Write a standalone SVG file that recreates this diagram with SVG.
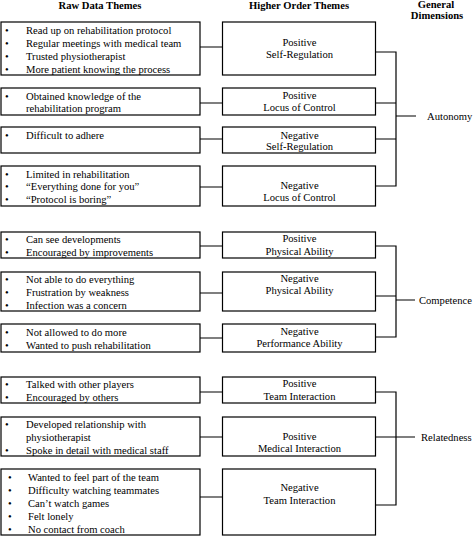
<svg xmlns="http://www.w3.org/2000/svg" width="473" height="536" viewBox="0 0 473 536">
<style>
text{font-family:"Liberation Serif","Times New Roman",serif;font-size:10.6px;fill:#000}
.h{font-weight:bold}
.c{text-anchor:middle}
rect{fill:#fff;stroke:#000;stroke-width:1.2}
.ln{stroke:#000;stroke-width:1.2;fill:none}
</style>
<rect x="0" y="0" width="473" height="536" style="fill:#fff;stroke:none"/>
<g id="headers">
<text class="h c" x="100" y="9">Raw Data Themes</text>
<text class="h c" x="299" y="9">Higher Order Themes</text>
<text class="h c" x="436" y="8">General</text>
<text class="h c" x="437" y="19">Dimensions</text>
</g>
<g id="connectors">
<path class="ln" d="M200,47H222.5M200,103H222.5M200,139H222.5M200,187H222.5M200,246H222.5M200,293H222.5M200,338H222.5M200,392H222.5M200,437H222.5M200,497H222.5"/>
<path class="ln" d="M375.5,52H396V186H375.5M375.5,103H396M375.5,139H396M396,116H416"/>
<path class="ln" d="M375.5,246H396V337H375.5M375.5,296H396M396,300H415"/>
<path class="ln" d="M375.5,392H396V505H375.5M375.5,437H415"/>
</g>
<g id="raw1"><rect x="1" y="22" width="199" height="53"/>
<text x="5" y="34">•</text><text x="26" y="34">Read up on rehabilitation protocol</text>
<text x="5" y="47">•</text><text x="26" y="47">Regular meetings with medical team</text>
<text x="5" y="60">•</text><text x="26" y="60">Trusted physiotherapist</text>
<text x="5" y="73">•</text><text x="26" y="73">More patient knowing the process</text></g>
<g id="raw2"><rect x="1" y="88" width="199" height="27"/>
<text x="5" y="100">•</text><text x="26" y="100">Obtained knowledge of the</text>
<text x="26" y="112">rehabilitation program</text></g>
<g id="raw3"><rect x="1" y="127" width="199" height="26"/>
<text x="5" y="138.5">•</text><text x="26" y="138.5">Difficult to adhere</text></g>
<g id="raw4"><rect x="1" y="166" width="199" height="40"/>
<text x="5" y="177.5">•</text><text x="26" y="177.5">Limited in rehabilitation</text>
<text x="5" y="190">•</text><text x="26" y="190">“Everything done for you”</text>
<text x="5" y="203">•</text><text x="26" y="203">“Protocol is boring”</text></g>
<g id="raw5"><rect x="1" y="232" width="199" height="26"/>
<text x="5" y="243">•</text><text x="26" y="243">Can see developments</text>
<text x="5" y="255.5">•</text><text x="26" y="255.5">Encouraged by improvements</text></g>
<g id="raw6"><rect x="1" y="272" width="199" height="39"/>
<text x="5" y="282.5">•</text><text x="26" y="282.5">Not able to do everything</text>
<text x="5" y="295.5">•</text><text x="26" y="295.5">Frustration by weakness</text>
<text x="5" y="308.5">•</text><text x="26" y="308.5">Infection was a concern</text></g>
<g id="raw7"><rect x="1" y="324" width="199" height="28"/>
<text x="5" y="336">•</text><text x="26" y="336">Not allowed to do more</text>
<text x="5" y="348.5">•</text><text x="26" y="348.5">Wanted to push rehabilitation</text></g>
<g id="raw8"><rect x="1" y="377" width="199" height="26"/>
<text x="5" y="388">•</text><text x="26" y="388">Talked with other players</text>
<text x="5" y="401">•</text><text x="26" y="401">Encouraged by others</text></g>
<g id="raw9"><rect x="1" y="417" width="199" height="39"/>
<text x="5" y="428">•</text><text x="26" y="428">Developed relationship with</text>
<text x="26" y="440.5">physiotherapist</text>
<text x="5" y="453.5">•</text><text x="26" y="453.5">Spoke in detail with medical staff</text></g>
<g id="raw10"><rect x="1" y="469" width="199" height="66"/>
<text x="8" y="480.5">•</text><text x="28" y="480.5">Wanted to feel part of the team</text>
<text x="8" y="493.5">•</text><text x="28" y="493.5">Difficulty watching teammates</text>
<text x="8" y="507">•</text><text x="28" y="507">Can’t watch games</text>
<text x="8" y="519.5">•</text><text x="28" y="519.5">Felt lonely</text>
<text x="8" y="533">•</text><text x="28" y="533">No contact from coach</text></g>
<g id="hot1"><rect x="222.5" y="22" width="153" height="53"/>
<text class="c" x="299.5" y="46">Positive</text><text class="c" x="299.5" y="58">Self-Regulation</text></g>
<g id="hot2"><rect x="222.5" y="88" width="153" height="27"/>
<text class="c" x="299.5" y="99">Positive</text><text class="c" x="299.5" y="111">Locus of Control</text></g>
<g id="hot3"><rect x="222.5" y="127" width="153" height="26"/>
<text class="c" x="299.5" y="138.5">Negative</text><text class="c" x="299.5" y="150">Self-Regulation</text></g>
<g id="hot4"><rect x="222.5" y="166" width="153" height="40"/>
<text class="c" x="299.5" y="189">Negative</text><text class="c" x="299.5" y="200.5">Locus of Control</text></g>
<g id="hot5"><rect x="222.5" y="232" width="153" height="26"/>
<text class="c" x="299.5" y="242">Positive</text><text class="c" x="299.5" y="255">Physical Ability</text></g>
<g id="hot6"><rect x="222.5" y="272" width="153" height="39"/>
<text class="c" x="299.5" y="282">Negative</text><text class="c" x="299.5" y="293.5">Physical Ability</text></g>
<g id="hot7"><rect x="222.5" y="324" width="153" height="28"/>
<text class="c" x="299.5" y="335">Negative</text><text class="c" x="299.5" y="347">Performance Ability</text></g>
<g id="hot8"><rect x="222.5" y="377" width="153" height="26"/>
<text class="c" x="299.5" y="387">Positive</text><text class="c" x="299.5" y="399.5">Team Interaction</text></g>
<g id="hot9"><rect x="222.5" y="417" width="153" height="39"/>
<text class="c" x="299.5" y="440">Positive</text><text class="c" x="299.5" y="452">Medical Interaction</text></g>
<g id="hot10"><rect x="222.5" y="469" width="153" height="66"/>
<text class="c" x="299.5" y="491">Negative</text><text class="c" x="299.5" y="503.5">Team Interaction</text></g>
<g id="dim1"><text x="427" y="120">Autonomy</text></g>
<g id="dim2"><text x="419" y="304">Competence</text></g>
<g id="dim3"><text x="421" y="441">Relatedness</text></g>
</svg>
